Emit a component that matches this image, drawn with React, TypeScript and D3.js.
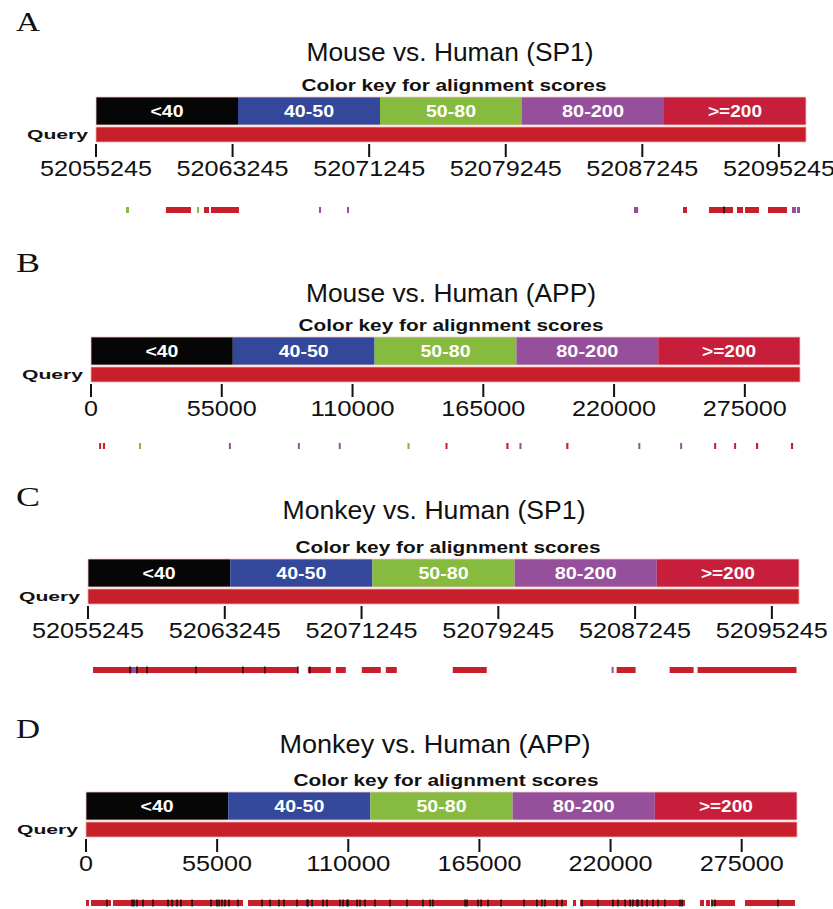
import React from "react";
import * as d3 from "d3";

// colour key
const keyLabels = ["<40", "40-50", "50-80", "80-200", ">=200"];
const keyColors = ["#060606", "#33479b", "#86bb3f", "#964f9b", "#c71f3b"];
const hitColors: Record<string, string> = {
  "<40": "#111111",
  "40-50": "#33479b",
  "50-80": "#86bb3f",
  "80-200": "#964f9b",
  ">=200": "#c8202a",
};

// query ranges and ticks
const sp1Domain = [52055245, 52096832];
const appDomain = [0, 298200];
const sp1Ticks = [52055245, 52063245, 52071245, 52079245, 52087245, 52095245];
const appTicks = [0, 55000, 110000, 165000, 220000, 275000];

type Hit = [number, number, string];

// A: mouse vs human SP1
const hitsMouseSP1: Hit[] = [
  [52057002, 52057178, "50-80"],
  [52059345, 52060809, ">=200"],
  [52061161, 52061278, "50-80"],
  [52061571, 52061864, ">=200"],
  [52061981, 52063621, ">=200"],
  [52068307, 52068424, "80-200"],
  [52069947, 52070064, "80-200"],
  [52086757, 52087001, "80-200"],
  [52089627, 52089861, ">=200"],
  [52091150, 52092556, ">=200"],
  [52092790, 52093142, ">=200"],
  [52093259, 52094079, ">=200"],
  [52094606, 52095719, ">=200"],
  [52096012, 52096246, "80-200"],
  [52096305, 52096480, "80-200"],
];
const marksMouseSP1 = [52092029];

// B: mouse vs human APP
const hitsMouseAPP: Hit[] = [
  [3400, 4200, ">=200"],
  [5000, 5900, ">=200"],
  [20200, 21000, "50-80"],
  [58000, 58400, "80-200"],
  [87000, 87800, "80-200"],
  [104200, 105000, "80-200"],
  [133100, 134000, "50-80"],
  [149100, 149900, ">=200"],
  [174700, 175600, ">=200"],
  [180200, 181000, "80-200"],
  [199900, 200800, ">=200"],
  [230200, 231000, "80-200"],
  [247800, 248600, "80-200"],
  [262100, 262900, ">=200"],
  [270500, 271300, ">=200"],
  [279700, 280600, ">=200"],
  [294400, 295300, ">=200"],
];
const marksMouseAPP: number[] = [];

// C: monkey vs human SP1
const hitsMonkeySP1: Hit[] = [
  [52055537, 52067520, ">=200"],
  [52057817, 52058051, "80-200"],
  [52068104, 52069448, ">=200"],
  [52069741, 52070325, ">=200"],
  [52071260, 52072371, ">=200"],
  [52072663, 52073306, ">=200"],
  [52076579, 52078567, ">=200"],
  [52085873, 52085990, "80-200"],
  [52086165, 52087276, ">=200"],
  [52089263, 52090666, ">=200"],
  [52090900, 52096687, ">=200"],
];
const marksMonkeySP1 = [
  52057700, 52058109, 52058694, 52061558, 52064305, 52065591, 52067520, 52068221,
];

// D: monkey vs human APP
const hitsMonkeyAPP: Hit[] = [
  [0, 1260, ">=200"],
  [2100, 10490, ">=200"],
  [11320, 65850, ">=200"],
  [67940, 201730, ">=200"],
  [204250, 205510, ">=200"],
  [207180, 251220, ">=200"],
  [257510, 259190, ">=200"],
  [260030, 261710, ">=200"],
  [262540, 272190, ">=200"],
  [276390, 297350, ">=200"],
];
const marksMonkeyAPP = [
  8800, 19300, 20100, 21400, 23900, 28100, 34400, 36100, 38200, 39800, 44500,
  52400, 54900, 55800, 57000, 58300, 60000, 63700, 73800, 77200, 80900, 83000,
  88500, 92700, 93100, 94800, 99400, 101100, 106500, 107800, 109500, 109900,
  113700, 114900, 117000, 121200, 127500, 134600, 141300, 144300, 145500,
  159000, 159800, 164400, 165700, 168600, 174100, 183700, 189100, 191200,
  192500, 197500, 199600, 208000, 214700, 221000, 223100, 226100, 228200,
  229400, 231100, 231500, 233200, 235300, 237800, 239900, 242800, 249100,
  250000, 262500, 263800, 290200,
];

const panels = [
  {
    letter: "A", title: "Mouse vs. Human (SP1)", domain: sp1Domain, ticks: sp1Ticks,
    hits: hitsMouseSP1, marks: marksMouseSP1,
    x0: 96, x1: 806, top: 97, letterY: 31, titleY: 61, titleX: 450, titleW: 287,
    keyX: 454, hitY: 207,
  },
  {
    letter: "B", title: "Mouse vs. Human (APP)", domain: appDomain, ticks: appTicks,
    hits: hitsMouseAPP, marks: marksMouseAPP,
    x0: 91, x1: 800, top: 337, letterY: 272, titleY: 302, titleX: 451, titleW: 290,
    keyX: 451, hitY: 443,
  },
  {
    letter: "C", title: "Monkey vs. Human (SP1)", domain: sp1Domain, ticks: sp1Ticks,
    hits: hitsMonkeySP1, marks: marksMonkeySP1,
    x0: 88, x1: 799, top: 559, letterY: 506, titleY: 519, titleX: 434, titleW: 303,
    keyX: 448, hitY: 667,
  },
  {
    letter: "D", title: "Monkey vs. Human (APP)", domain: appDomain, ticks: appTicks,
    hits: hitsMonkeyAPP, marks: marksMonkeyAPP,
    x0: 86, x1: 797, top: 792, letterY: 738, titleY: 753, titleX: 435, titleW: 311,
    keyX: 446, hitY: 900,
  },
];

const keyWidths = [33, 50, 50, 62, 54];
const sans = "'Liberation Sans', Arial, sans-serif";

function Panel({ p }: { p: (typeof panels)[number] }) {
  const x = d3.scaleLinear().domain(p.domain).range([p.x0, p.x1]);
  const band = d3.scaleBand().domain(keyLabels).range([p.x0, p.x1]);
  const K = p.top;
  return (
    <g>
      <text x={16} y={p.letterY} fontFamily="'Liberation Serif', 'Times New Roman', serif"
        fontSize={27} textLength={24} lengthAdjust="spacingAndGlyphs" fill="#111">{p.letter}</text>
      <text x={p.titleX} y={p.titleY} textAnchor="middle" fontFamily={sans} fontSize={25}
        textLength={p.titleW} lengthAdjust="spacingAndGlyphs" fill="#111">{p.title}</text>
      <text x={p.keyX} y={K - 6} textAnchor="middle" fontFamily={sans} fontSize={17}
        fontWeight="bold" textLength={305} lengthAdjust="spacingAndGlyphs" fill="#111">
        Color key for alignment scores
      </text>
      {keyLabels.map((k, i) => (
        <g key={k}>
          <rect x={band(k)} y={K} width={band.bandwidth()} height={28} fill={keyColors[i]} />
          <text x={(band(k) as number) + band.bandwidth() / 2} y={K + 20} textAnchor="middle"
            fontFamily={sans} fontSize={16} fontWeight="bold" fill="#fff"
            textLength={keyWidths[i]} lengthAdjust="spacingAndGlyphs">{k}</text>
        </g>
      ))}
      <rect x={p.x0} y={K} width={p.x1 - p.x0} height={28} fill="none" stroke="#f0c8c8" strokeWidth={0.8} />
      <text x={p.x0 - 8} y={K + 42} textAnchor="end" fontFamily={sans} fontSize={12}
        fontWeight="bold" textLength={61} lengthAdjust="spacingAndGlyphs" fill="#111">Query</text>
      <rect x={p.x0} y={K + 30} width={p.x1 - p.x0} height={15} fill="#c8202a"
        stroke="#eeb0b0" strokeWidth={0.8} />
      {p.ticks.map((t) => (
        <g key={t}>
          <line x1={x(t)} x2={x(t)} y1={K + 47} y2={K + 60} stroke="#111" strokeWidth={2} />
          <text x={x(t)} y={K + 79} textAnchor="middle" fontFamily={sans} fontSize={22}
            textLength={String(t).length * 14} lengthAdjust="spacingAndGlyphs" fill="#111">{t}</text>
        </g>
      ))}
      {p.hits.map(([s, e, c], i) => (
        <rect key={i} x={x(s)} y={p.hitY} width={Math.max(2, x(e) - x(s))} height={6}
          fill={hitColors[c]} />
      ))}
      {p.marks.map((m, i) => (
        <rect key={"m" + i} x={x(m) - 0.75} y={p.hitY - 0.5} width={1.5} height={7}
          fill={hitColors["<40"]} />
      ))}
    </g>
  );
}

export default function App() {
  return (
    <svg width={833} height={909} style={{ position: "absolute", left: 0, top: 0, background: "#fff" }}>
      <rect width={833} height={909} fill="#fff" />
      {panels.map((p) => (
        <Panel key={p.letter} p={p} />
      ))}
    </svg>
  );
}
